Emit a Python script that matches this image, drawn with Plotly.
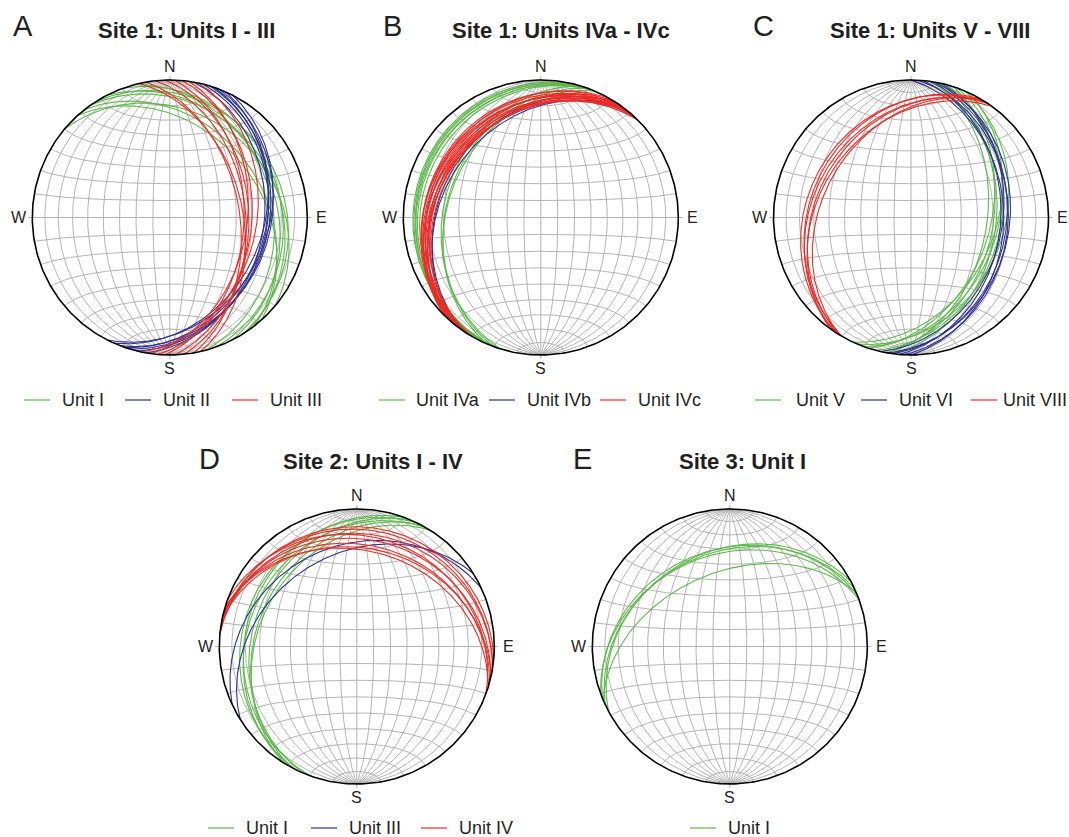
import numpy as np
import plotly.graph_objects as go

W_PX, H_PX = 1069, 837
R_PX = 137.5
K = 1.12

GREEN = "#5cb94a"
BLUE = "#2e3192"
RED = "#ee2a24"
GRID = "#adadad"
TXT = "#231f20"
FONT = "Liberation Sans, Arial, sans-serif"

# ---------------- data: planes as (strike, dip), right-hand rule ----------------
A_unitI_strike = [310, 318, 322, 325, 328, 333, 340, 345]
A_unitI_dip = [25, 35, 32, 22, 18, 24, 20, 26]
A_unitII_strike = [10, 14, 17, 19, 21, 24, 27]
A_unitII_dip = [32, 30, 29, 31, 28, 33, 30]
A_unitIII_strike = [347, 350, 354, 358, 2, 5, 8, 12]
A_unitIII_dip = [46, 48, 44, 42, 45, 40, 43, 37]

B_unitIVa_strike = [195, 198, 200, 202, 204, 197, 200, 203, 199]
B_unitIVa_dip = [8, 10, 12, 14, 11, 30, 32, 33, 9]
B_unitIVb_strike = [214, 218, 221]
B_unitIVb_dip = [28, 30, 27]
B_unitIVc_strike = [210, 212, 214, 215, 216, 217, 218, 219, 220, 221, 222, 223, 224, 225]
B_unitIVc_dip = [20, 24, 18, 26, 22, 28, 19, 25, 21, 27, 23, 20, 26, 24]

C_unitV_strike = [8, 12, 15, 18, 20, 23, 25, 10]
C_unitV_dip = [38, 40, 35, 42, 37, 33, 39, 44]
C_unitVI_strike = [0, 3, 5, 8, 10, 13]
C_unitVI_dip = [33, 30, 35, 31, 29, 34]
C_unitVIII_strike = [210, 212, 214, 216, 213, 211]
C_unitVIII_dip = [28, 32, 30, 34, 26, 36]

D_unitI_strike = [200, 203, 206, 208, 210, 212]
D_unitI_dip = [20, 25, 18, 28, 22, 30]
D_unitIII_strike = [245, 238]
D_unitIII_dip = [27, 33]
D_unitIV_strike = [275, 278, 280, 283, 285, 287, 290, 282]
D_unitIV_dip = [14, 19, 16, 23, 27, 31, 21, 29]

E_unitI_strike = [242, 245, 248, 250, 247]
E_unitI_dip = [31, 32, 30, 33, 45]

# ---------------- projection helpers (equal-area, lower hemisphere) ----------------
def project(v):
    x, y, z = v
    f = 1.0 / np.sqrt(1.0 + z)
    return x * f, y * f


def plane_curve(strike, dip, n=241):
    s = np.radians(strike)
    d = np.radians(dip)
    sv = np.array([np.sin(s), np.cos(s), 0.0])
    dd = s + np.pi / 2
    dv = np.array([np.cos(d) * np.sin(dd), np.cos(d) * np.cos(dd), np.sin(d)])
    lam = np.linspace(0, np.pi, n)
    v = np.outer(np.cos(lam), sv) + np.outer(np.sin(lam), dv)
    v[:, 2] = np.clip(v[:, 2], 0, None)
    return project(v.T)


def small_circle(alpha, n=181):
    a = np.radians(alpha)
    phi = np.linspace(0, np.pi, n)
    x = np.sin(a) * np.cos(phi)
    y = np.full_like(phi, np.cos(a))
    z = np.sin(a) * np.sin(phi)
    return project((x, y, z))


def grid_xy():
    xs, ys = [], []
    for dip in range(10, 90, 10):
        for st in (0, 180):
            x, y = plane_curve(st, dip)
            xs += list(x) + [None]
            ys += list(y) + [None]
    xs += [0, 0, None]
    ys += [-1.03, 1.03, None]
    for a in list(range(10, 90, 10)) + list(range(100, 180, 10)):
        x, y = small_circle(a)
        xs += list(x) + [None]
        ys += list(y) + [None]
    xs += [-1.03, 1.03, None]
    ys += [0, 0, None]
    return xs, ys


def multi_planes(strikes, dips):
    xs, ys = [], []
    for s, d in zip(strikes, dips):
        x, y = plane_curve(s, d)
        xs += list(x) + [None]
        ys += list(y) + [None]
    return xs, ys


panels = [
    dict(letter="A", title="Site 1: Units I - III", cx=169.8, cy=217.5,
         units=[("Unit I", A_unitI_strike, A_unitI_dip, GREEN),
                ("Unit II", A_unitII_strike, A_unitII_dip, BLUE),
                ("Unit III", A_unitIII_strike, A_unitIII_dip, RED)],
         letter_xy=(11, 26), title_xy=(186, 31), leg_y=400,
         leg_x=[(24, 60), (125, 161), (232, 268)]),
    dict(letter="B", title="Site 1: Units IVa - IVc", cx=540.8, cy=217.5,
         units=[("Unit IVa", B_unitIVa_strike, B_unitIVa_dip, GREEN),
                ("Unit IVb", B_unitIVb_strike, B_unitIVb_dip, BLUE),
                ("Unit IVc", B_unitIVc_strike, B_unitIVc_dip, RED)],
         letter_xy=(381, 26), title_xy=(561, 31), leg_y=400,
         leg_x=[(379, 414), (489, 525), (600, 636)]),
    dict(letter="C", title="Site 1: Units V - VIII", cx=911.0, cy=217.5,
         units=[("Unit V", C_unitV_strike, C_unitV_dip, GREEN),
                ("Unit VI", C_unitVI_strike, C_unitVI_dip, BLUE),
                ("Unit VIII", C_unitVIII_strike, C_unitVIII_dip, RED)],
         letter_xy=(751, 26), title_xy=(930, 31), leg_y=400,
         leg_x=[(755, 794), (861, 897), (971, 1001)]),
    dict(letter="D", title="Site 2: Units I - IV", cx=356.8, cy=646.5,
         units=[("Unit I", D_unitI_strike, D_unitI_dip, GREEN),
                ("Unit III", D_unitIII_strike, D_unitIII_dip, BLUE),
                ("Unit IV", D_unitIV_strike, D_unitIV_dip, RED)],
         letter_xy=(197, 459), title_xy=(373, 461), leg_y=828,
         leg_x=[(208, 244), (311, 347), (421, 457)]),
    dict(letter="E", title="Site 3: Unit I", cx=729.8, cy=646.5,
         units=[("Unit I", E_unitI_strike, E_unitI_dip, GREEN)],
         letter_xy=(571, 459), title_xy=(742, 461), leg_y=828,
         leg_x=[(690, 726)]),
]

fig = go.Figure()
layout = dict(width=W_PX, height=H_PX, margin=dict(l=0, r=0, t=0, b=0),
              paper_bgcolor="white", plot_bgcolor="white", showlegend=False)
annotations = []
shapes = []

def px_to_paper(x, y):
    return x / W_PX, 1 - y / H_PX

theta = np.linspace(0, 2 * np.pi, 361)
for i, p in enumerate(panels):
    n = "" if i == 0 else str(i + 1)
    xa, ya = "x" + n, "y" + n
    half = K * R_PX
    x0, _ = px_to_paper(p["cx"] - half, 0)
    x1, _ = px_to_paper(p["cx"] + half, 0)
    _, y1 = px_to_paper(0, p["cy"] - half)
    _, y0 = px_to_paper(0, p["cy"] + half)
    axcfg = dict(range=[-K, K], visible=False, showgrid=False, zeroline=False, fixedrange=True)
    layout["xaxis" + n] = dict(axcfg, domain=[x0, x1], anchor=ya)
    layout["yaxis" + n] = dict(axcfg, domain=[y0, y1], anchor=xa)

    gx, gy = grid_xy()
    fig.add_trace(go.Scatter(x=gx, y=gy, mode="lines", xaxis=xa, yaxis=ya,
                             line=dict(color=GRID, width=0.9), hoverinfo="skip"))
    for name, st, dp, col in p["units"]:
        ux, uy = multi_planes(st, dp)
        fig.add_trace(go.Scatter(x=ux, y=uy, mode="lines", xaxis=xa, yaxis=ya, name=name,
                                 line=dict(color=col, width=1.1)))
    fig.add_trace(go.Scatter(x=np.cos(theta), y=np.sin(theta), mode="lines", xaxis=xa, yaxis=ya,
                             line=dict(color="black", width=1.6), hoverinfo="skip"))

    for lab, (lx, ly) in {"N": (0, 1.095), "S": (0, -1.095), "W": (-1.095, 0), "E": (1.1, 0)}.items():
        annotations.append(dict(text=lab, x=lx, y=ly, xref=xa, yref=ya, showarrow=False,
                                font=dict(family=FONT, size=16, color=TXT),
                                xanchor="center", yanchor="middle"))
    lx, ly = px_to_paper(*p["letter_xy"])
    annotations.append(dict(text=p["letter"], x=lx, y=ly, xref="paper", yref="paper", showarrow=False,
                            font=dict(family=FONT, size=29, color=TXT), xanchor="left", yanchor="middle"))
    tx, ty = px_to_paper(*p["title_xy"])
    annotations.append(dict(text="<b>" + p["title"] + "</b>", x=tx, y=ty, xref="paper", yref="paper",
                            showarrow=False, font=dict(family=FONT, size=22, color=TXT),
                            xanchor="center", yanchor="middle"))
    for (name, st, dp, col), (lxs, txs) in zip(p["units"], p["leg_x"]):
        a0x, ay = px_to_paper(lxs, p["leg_y"])
        a1x, _ = px_to_paper(lxs + 26, p["leg_y"])
        shapes.append(dict(type="line", xref="paper", yref="paper", x0=a0x, x1=a1x, y0=ay, y1=ay,
                           line=dict(color=col, width=1.2)))
        tpx, _ = px_to_paper(txs, 0)
        annotations.append(dict(text=name, x=tpx, y=ay, xref="paper", yref="paper", showarrow=False,
                                font=dict(family=FONT, size=18, color=TXT), xanchor="left", yanchor="middle"))

layout["annotations"] = annotations
layout["shapes"] = shapes
fig.update_layout(**layout)
fig.write_html("out.html", config={"displayModeBar": False},
               post_script="document.body.style.margin='0px';document.body.style.overflow='hidden';")
